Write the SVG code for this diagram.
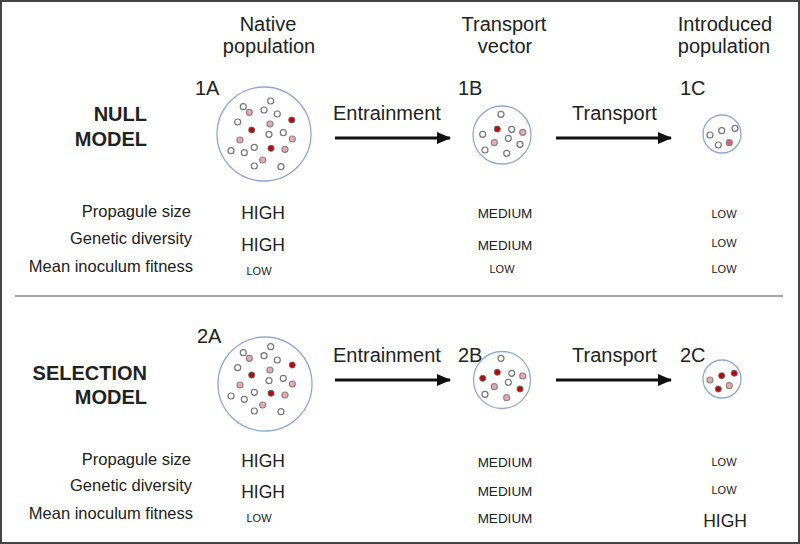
<svg xmlns="http://www.w3.org/2000/svg" width="800" height="544" viewBox="0 0 800 544">
<style>
text{font-family:"Liberation Sans",Arial,sans-serif;fill:#222}
.h{font-size:20px;text-anchor:middle}
.lab{font-size:20px}
.b{font-size:20px;font-weight:bold;text-anchor:end}
.row{font-size:16.5px;text-anchor:end}
.hi{font-size:17.5px;text-anchor:middle}
.md{font-size:13.5px;text-anchor:middle}
.lo{font-size:11px;text-anchor:middle}
.pop{fill:none;stroke:#8fa8d8;stroke-width:1.3}
.o{fill:#fff;stroke:#777;stroke-width:1.2}
.p{fill:#f2a7ad;stroke:#888;stroke-width:1.2}
.r{fill:#c40000;stroke:#666;stroke-width:1}
.arr{stroke:#111;stroke-width:3;fill:none;marker-end:url(#ah)}
</style>
<defs>
<marker id="ah" markerUnits="userSpaceOnUse" markerWidth="14" markerHeight="12" refX="13" refY="6" orient="auto">
<path d="M0,0 L14,6 L0,12 z" fill="#111"/>
</marker>
</defs>
<rect x="1" y="1" width="798" height="542" fill="#fff" stroke="#444" stroke-width="2"/>
<line x1="15" y1="296" x2="783" y2="296" stroke="#888" stroke-width="1.5"/>

<g id="headers">
<text class="h" x="268" y="31">Native</text>
<text class="h" x="269" y="53">population</text>
<text class="h" x="504" y="31">Transport</text>
<text class="h" x="505" y="53">vector</text>
<text class="h" x="725" y="31">Introduced</text>
<text class="h" x="724" y="53">population</text>
</g>

<g id="null-model">
<text class="b" x="147" y="121">NULL</text>
<text class="b" x="147" y="146">MODEL</text>
</g>
<g id="selection-model">
<text class="b" x="147" y="380">SELECTION</text>
<text class="b" x="147" y="404">MODEL</text>
</g>

<g id="node-1A">
<text class="lab" x="195" y="95">1A</text>
<circle class="pop" cx="264" cy="134" r="47"/>
<circle class="o" cx="270.7" cy="101" r="3"/>
<circle class="o" cx="243.3" cy="106.7" r="3"/>
<circle class="p" cx="249.3" cy="112.3" r="3"/>
<circle class="o" cx="264" cy="110" r="3"/>
<circle class="o" cx="277.3" cy="114" r="3"/>
<circle class="r" cx="291.7" cy="120" r="3"/>
<circle class="o" cx="237.7" cy="122" r="3"/>
<circle class="p" cx="270" cy="124" r="3"/>
<circle class="r" cx="251.7" cy="130" r="3"/>
<circle class="o" cx="269" cy="134.3" r="3"/>
<circle class="o" cx="283.3" cy="132.7" r="3"/>
<circle class="p" cx="292.3" cy="139" r="3"/>
<circle class="p" cx="240" cy="140" r="3"/>
<circle class="o" cx="254.3" cy="147.3" r="3"/>
<circle class="r" cx="271" cy="148.3" r="3"/>
<circle class="p" cx="285" cy="149.3" r="3"/>
<circle class="o" cx="231" cy="150.7" r="3"/>
<circle class="o" cx="244.3" cy="152.7" r="3"/>
<circle class="p" cx="262.7" cy="160" r="3"/>
<circle class="o" cx="254.3" cy="166" r="3"/>
<circle class="o" cx="281" cy="166.7" r="3"/>
</g>

<g id="node-1B">
<text class="lab" x="458" y="95">1B</text>
<circle class="pop" cx="502" cy="135" r="29"/>
<circle class="o" cx="501" cy="114.3" r="3"/>
<circle class="r" cx="497.3" cy="129" r="3"/>
<circle class="o" cx="511.7" cy="129.3" r="3"/>
<circle class="p" cx="522.7" cy="132.3" r="3"/>
<circle class="o" cx="482.7" cy="134.3" r="3"/>
<circle class="o" cx="508.3" cy="138.3" r="3"/>
<circle class="p" cx="494.3" cy="142.7" r="3"/>
<circle class="o" cx="520" cy="144.3" r="3"/>
<circle class="o" cx="485" cy="150" r="3"/>
<circle class="o" cx="506.7" cy="153.3" r="3"/>
</g>

<g id="node-1C">
<text class="lab" x="680" y="95">1C</text>
<circle class="pop" cx="722" cy="134" r="19"/>
<circle class="o" cx="721.7" cy="130.7" r="3"/>
<circle class="o" cx="735" cy="128.3" r="3"/>
<circle class="o" cx="710" cy="135" r="3"/>
<circle class="p" cx="729.3" cy="142.7" r="3" style="fill:#e0606a"/>
<circle class="o" cx="718.3" cy="145" r="3"/>
</g>

<g id="node-2A">
<text class="lab" x="197" y="343">2A</text>
<circle class="pop" cx="265" cy="384" r="47"/>
<circle class="o" cx="270.7" cy="346.7" r="3"/>
<circle class="o" cx="243.3" cy="352.7" r="3"/>
<circle class="p" cx="249.3" cy="358.3" r="3"/>
<circle class="o" cx="264" cy="355.7" r="3"/>
<circle class="o" cx="277.3" cy="360" r="3"/>
<circle class="r" cx="292.3" cy="365" r="3"/>
<circle class="o" cx="237.7" cy="367.7" r="3"/>
<circle class="p" cx="270" cy="370" r="3"/>
<circle class="r" cx="251.7" cy="375" r="3"/>
<circle class="o" cx="269" cy="380.7" r="3"/>
<circle class="o" cx="283.3" cy="378.3" r="3"/>
<circle class="p" cx="292.3" cy="384" r="3"/>
<circle class="p" cx="240" cy="385" r="3"/>
<circle class="o" cx="254.3" cy="392.3" r="3"/>
<circle class="r" cx="271" cy="393.3" r="3"/>
<circle class="p" cx="285" cy="395" r="3"/>
<circle class="o" cx="231" cy="396" r="3"/>
<circle class="o" cx="244.3" cy="399.3" r="3"/>
<circle class="p" cx="262.7" cy="405" r="3"/>
<circle class="o" cx="254.3" cy="411" r="3"/>
<circle class="o" cx="281" cy="411.7" r="3"/>
</g>

<g id="node-2B">
<text class="lab" x="458" y="362">2B</text>
<circle class="pop" cx="502" cy="380" r="28.5"/>
<circle class="o" cx="501" cy="358.3" r="3"/>
<circle class="r" cx="497.3" cy="372.3" r="3"/>
<circle class="o" cx="511.7" cy="373.3" r="3"/>
<circle class="p" cx="522.7" cy="376" r="3"/>
<circle class="r" cx="482.7" cy="378.3" r="3"/>
<circle class="o" cx="508.3" cy="382.3" r="3"/>
<circle class="p" cx="494.3" cy="386.7" r="3"/>
<circle class="r" cx="520" cy="389" r="3"/>
<circle class="o" cx="485" cy="394.3" r="3"/>
<circle class="p" cx="506.7" cy="397.7" r="3"/>
</g>

<g id="node-2C">
<text class="lab" x="680" y="362">2C</text>
<circle class="pop" cx="722" cy="379" r="19"/>
<circle class="r" cx="721.7" cy="375.7" r="3"/>
<circle class="r" cx="734.3" cy="373.3" r="3"/>
<circle class="p" cx="710" cy="380" r="3"/>
<circle class="p" cx="729.3" cy="385.7" r="3"/>
<circle class="r" cx="718.3" cy="389" r="3"/>
</g>

<g id="connectors">
<line class="arr" x1="335" y1="138" x2="450" y2="138"/>
<text class="lab" x="333" y="120">Entrainment</text>
<line class="arr" x1="556" y1="138" x2="671" y2="138"/>
<text class="lab" x="572" y="120">Transport</text>
<line class="arr" x1="335" y1="380" x2="450" y2="380"/>
<text class="lab" x="333" y="362">Entrainment</text>
<line class="arr" x1="556" y1="380" x2="671" y2="380"/>
<text class="lab" x="572" y="362">Transport</text>
</g>

<g id="table-null">
<text class="row" x="191" y="217">Propagule size</text>
<text class="row" x="192" y="244">Genetic diversity</text>
<text class="row" x="193" y="272">Mean inoculum fitness</text>
<text class="hi" x="263" y="219">HIGH</text>
<text class="hi" x="263" y="251">HIGH</text>
<text class="lo" x="259" y="275">LOW</text>
<text class="md" x="505" y="218">MEDIUM</text>
<text class="md" x="505" y="250">MEDIUM</text>
<text class="lo" x="502" y="273">LOW</text>
<text class="lo" x="724" y="218">LOW</text>
<text class="lo" x="724" y="247">LOW</text>
<text class="lo" x="724" y="273">LOW</text>
</g>

<g id="table-selection">
<text class="row" x="191" y="465">Propagule size</text>
<text class="row" x="192" y="491">Genetic diversity</text>
<text class="row" x="193" y="519">Mean inoculum fitness</text>
<text class="hi" x="263" y="467">HIGH</text>
<text class="hi" x="263" y="498">HIGH</text>
<text class="lo" x="259" y="522">LOW</text>
<text class="md" x="505" y="467">MEDIUM</text>
<text class="md" x="505" y="496">MEDIUM</text>
<text class="md" x="505" y="523">MEDIUM</text>
<text class="lo" x="724" y="466">LOW</text>
<text class="lo" x="724" y="494">LOW</text>
<text class="hi" x="725" y="527">HIGH</text>
</g>
</svg>
